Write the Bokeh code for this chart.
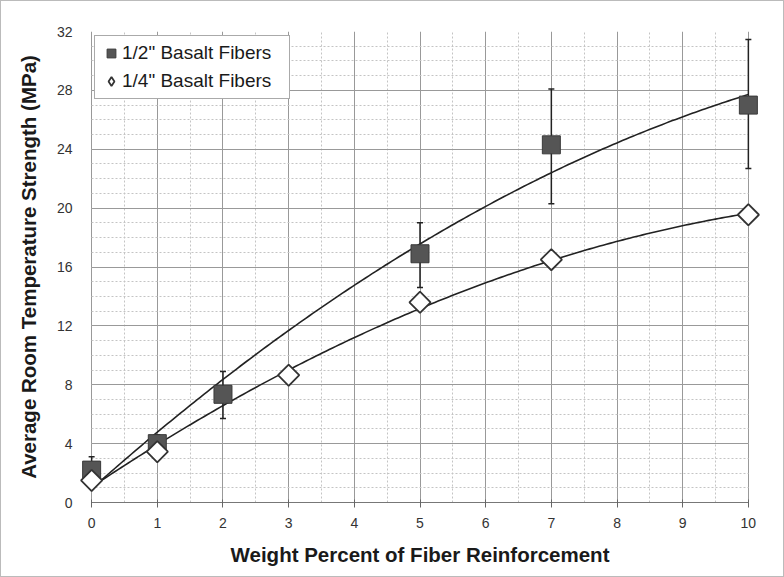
import numpy as np
from bokeh.plotting import figure
from bokeh.models import (ColumnDataSource, Whisker, TeeHead, SingleIntervalTicker,
                          Legend, LegendItem, Range1d)
from bokeh.embed import file_html
from bokeh.resources import INLINE

# ---- data ----
half_x = [0, 1, 2, 5, 7, 10]
half_y = [2.2, 4.0, 7.35, 16.9, 24.3, 27.0]
half_lo = [1.4, 3.4, 5.7, 14.6, 20.3, 22.7]
half_hi = [3.1, 4.6, 8.9, 19.0, 28.1, 31.45]

quarter_x = [0, 1, 3, 5, 7, 10]
quarter_y = [1.5, 3.45, 8.65, 13.6, 16.5, 19.55]

series_labels = ['1/2" Basalt Fibers', '1/4" Basalt Fibers']
x_label = "Weight Percent of Fiber Reinforcement"
y_label = "Average Room Temperature Strength (MPa)"

X_START, X_END = 0, 10
Y_START, Y_END = 0, 32
X_PAD = 0.2  # room so that edge markers are not cut

FONT = "Liberation Sans"

p = figure(width=784, height=577, output_backend="svg", toolbar_location=None,
           x_range=Range1d(X_START - X_PAD, X_END + X_PAD), y_range=Range1d(Y_START, Y_END),
           min_border_left=77, min_border_right=24, min_border_top=30, min_border_bottom=76)
p.background_fill_color = "white"
p.border_fill_color = "white"
p.outline_line_color = None

# axes
p.xaxis.ticker = SingleIntervalTicker(interval=1, num_minor_ticks=2)
p.yaxis.ticker = SingleIntervalTicker(interval=4, num_minor_ticks=4)
for ax in (p.xaxis[0], p.yaxis[0]):
    ax.major_tick_line_color = "#666666"
    ax.minor_tick_line_color = None
    ax.major_label_text_font = FONT
    ax.major_label_text_font_size = "14px"
    ax.major_label_text_color = "#333333"
    ax.axis_label_text_font = FONT
    ax.axis_label_text_font_style = "bold"
    ax.axis_label_text_font_size = "20.5px"
    ax.axis_label_text_color = "#1a1a1a"
p.xaxis.bounds = (X_START, X_END)
p.xaxis.axis_line_color = "#777777"
p.xaxis.major_tick_out = 5
p.xaxis.major_tick_in = 3
p.yaxis.axis_line_color = None
p.yaxis.major_tick_out = 0
p.yaxis.major_tick_in = 0
p.xaxis.axis_label = x_label
p.yaxis.axis_label = y_label
p.xaxis.major_label_standoff = 10
p.xaxis.axis_label_standoff = 12
p.yaxis.major_label_standoff = 2
p.yaxis.axis_label_standoff = 14

# grid (bounded to the plot area)
p.xgrid.bounds = (X_START, X_END)
p.xgrid.cross_bounds = (Y_START, Y_END)
p.ygrid.bounds = (Y_START, Y_END)
p.ygrid.cross_bounds = (X_START, X_END)
p.xgrid.grid_line_color = "#999999"
p.ygrid.grid_line_color = "#999999"
p.xgrid.minor_grid_line_color = "#c4c4c4"
p.ygrid.minor_grid_line_color = "#c4c4c4"
p.xgrid.minor_grid_line_dash = "2 2"
p.ygrid.minor_grid_line_dash = "2 2"

# polynomial trendlines (2nd order) fitted from the data
xs = np.linspace(X_START, X_END, 200)
c_half = np.polyfit(half_x, half_y, 2)
c_quarter = np.polyfit(quarter_x, quarter_y, 2)
p.line(xs, np.polyval(c_half, xs), line_color="#222222", line_width=1.6)
p.line(xs, np.polyval(c_quarter, xs), line_color="#222222", line_width=1.6)

# error bars
src_half = ColumnDataSource(dict(x=half_x, y=half_y, lo=half_lo, hi=half_hi))
src_quarter = ColumnDataSource(dict(x=quarter_x, y=quarter_y))
wh = Whisker(base="x", lower="lo", upper="hi", source=src_half,
             line_color="#222222", line_width=1.5,
             upper_head=TeeHead(size=6, line_color="#222222", line_width=1.5),
             lower_head=TeeHead(size=6, line_color="#222222", line_width=1.5))
p.add_layout(wh)

r_half = p.scatter("x", "y", source=src_half, marker="square", size=18,
                   fill_color="#555555", line_color="#3a3a3a", line_width=1)
r_quarter = p.scatter("x", "y", source=src_quarter, marker="square", angle=np.pi / 4, size=15,
                      fill_color="white", line_color="#333333", line_width=1.8)
# legend-only glyph (diamond shape) for the 1/4" series
r_quarter_leg = p.scatter("x", "y", source=src_quarter, marker="diamond", size=15,
                          fill_color="white", line_color="#333333", line_width=1.8,
                          visible=False)

legend = Legend(items=[LegendItem(label=series_labels[0], renderers=[r_half]),
                       LegendItem(label=series_labels[1], renderers=[r_quarter_leg])],
                location=(16, 403))
legend.label_text_font = FONT
legend.label_text_font_size = "19px"
legend.label_text_color = "#1a1a1a"
legend.border_line_color = "#555555"
legend.border_line_width = 1.2
legend.background_fill_alpha = 1
legend.inactive_fill_alpha = 0
legend.glyph_width = 22
legend.glyph_height = 24
legend.label_standoff = 0
legend.label_width = 162
legend.spacing = 4
legend.padding = 5
legend.margin = 0
legend.label_height = 24
p.add_layout(legend, "center")

p.styles = {"border": "1px solid #bbbbbb"}

open("out.html", "w").write(file_html(p, INLINE))
